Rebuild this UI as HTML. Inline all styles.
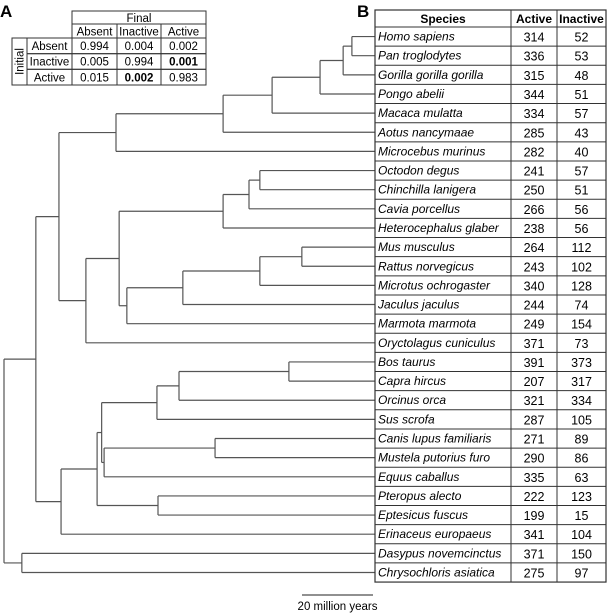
<!DOCTYPE html>
<html><head><meta charset="utf-8"><style>
html,body{margin:0;padding:0;background:#fff;}
svg{display:block;font-family:"Liberation Sans",Arial,sans-serif;}
</style></head><body>
<svg id="fig" width="607" height="613" viewBox="0 0 607 613" xmlns="http://www.w3.org/2000/svg">
<g id="matrix"></g>
<g id="tree"></g>
<g id="table"></g>
<text x="0" y="17" font-size="17" font-weight="bold">A</text>
<text x="357" y="17" font-size="17" font-weight="bold">B</text>
<line x1="302" y1="595" x2="373" y2="595" stroke="#222" stroke-width="1"/>
<text x="337.5" y="610" font-size="11.5" text-anchor="middle">20 million years</text>
</svg>
<script>
const species = ["Homo sapiens","Pan troglodytes","Gorilla gorilla gorilla","Pongo abelii","Macaca mulatta","Aotus nancymaae","Microcebus murinus","Octodon degus","Chinchilla lanigera","Cavia porcellus","Heterocephalus glaber","Mus musculus","Rattus norvegicus","Microtus ochrogaster","Jaculus jaculus","Marmota marmota","Oryctolagus cuniculus","Bos taurus","Capra hircus","Orcinus orca","Sus scrofa","Canis lupus familiaris","Mustela putorius furo","Equus caballus","Pteropus alecto","Eptesicus fuscus","Erinaceus europaeus","Dasypus novemcinctus","Chrysochloris asiatica"];
const activeCounts = [314,336,315,344,334,285,282,241,250,266,238,264,243,340,244,249,371,391,207,321,287,271,290,335,222,199,341,371,275];
const inactiveCounts = [52,53,48,51,57,43,40,57,51,56,56,112,102,128,74,154,73,373,317,334,105,89,86,63,123,15,104,150,97];
// tree: [age (Mya), child, child]; leaves are species indices
const treeData = [106,[96.9,[90.3,[74,[43.4,[29.4,[15.7,[9.1,[6.6,0,1],2],3],4],5],6],[82.6,[73.1,[43.4,[36,[32.9,7,8],9],10],[70.9,[54.9,[32.9,[20.9,11,12],13],14],15]],16]],[89.7,[79.4,[78.1,[62.3,[56,[24.6,17,18],19],20],[77.4,[45.7,21,22],23]],[62,24,25]],26]],[100.9,27,28]];
const matCols = ["Absent","Inactive","Active"];
const matRows = ["Absent","Inactive","Active"];
const matVals = [["0.994","0.004","0.002"],["0.005","0.994","0.001"],["0.015","0.002","0.983"]];
const matBold = [[0,0,0],[0,0,1],[0,1,0]];

const NS="http://www.w3.org/2000/svg";
function mk(parent,tag,attrs,txt){const e=document.createElementNS(NS,tag);for(const k in attrs)e.setAttribute(k,attrs[k]);if(txt!==undefined)e.textContent=txt;parent.appendChild(e);return e;}

const tL=375,tR=606,c1=511,c2=557,tTop=10,hBot=27,rowH=19.14;
const rowY=i=>hBot+rowH*(i+0.5);
const xAge=a=>375-a*3.5;

const tb=document.getElementById('table');
const border=mk(tb,'rect',{x:tL,y:tTop,width:tR-tL,height:hBot+rowH*species.length-tTop,fill:'none',stroke:'#333','stroke-width':1.2});


[c1,c2].forEach(x=>{const l=mk(tb,'line',{x1:x,x2:x,y1:tTop,y2:hBot+rowH*species.length,stroke:'#333','stroke-width':1});});
const hdr=[["Species",(tL+c1)/2],["Active",(c1+c2)/2],["Inactive",(c2+tR)/2]];
hdr.forEach(h=>{const t=mk(tb,'text',{x:h[1],y:23,'font-size':12,'font-weight':'bold','text-anchor':'middle'},h[0]);});
species.forEach((s,i)=>{
  const yb=hBot+rowH*i;
  const l=mk(tb,'line',{x1:tL,x2:tR,y1:yb,y2:yb,stroke:'#333','stroke-width':1});
  
  
  const y=rowY(i)+4;
  const a=mk(tb,'text',{x:tL+3,y:y,'font-size':12,'font-style':'italic'},s);
  
  
  const b=mk(tb,'text',{x:(c1+c2)/2,y:y+1,'font-size':12.5,'text-anchor':'middle'},activeCounts[i]);
  
  
  const c=mk(tb,'text',{x:(c2+tR)/2,y:y+1,'font-size':12.5,'text-anchor':'middle'},inactiveCounts[i]);
  
  
});

const tr=document.getElementById('tree');
function line(x1,y1,x2,y2){const l=mk(tr,'line',{x1,y1,x2,y2,stroke:'#555','stroke-width':1.2});}
function layout(n){
  if(typeof n==='number') return {x:tL,y:rowY(n)};
  const x=xAge(n[0]);
  const ch=n.slice(1).map(layout);
  ch.forEach(c=>line(x,c.y,c.x,c.y));
  const ys=ch.map(c=>c.y);
  line(x,Math.min(...ys),x,Math.max(...ys));
  return {x,y:(Math.min(...ys)+Math.max(...ys))/2};
}
layout(treeData);

const m=document.getElementById('matrix');
const mx=[72,117,161,206], my=[11,24,38,53.7,69.3,85];
function r(x,y,w,h,name){const e=mk(m,'rect',{x,y,width:w,height:h,fill:'none',stroke:'#333','stroke-width':1});}
r(72,11,134,13,'final-header-cell');
const ft=mk(m,'text',{x:139,y:22,'font-size':11.5,'text-anchor':'middle'},'Final');


r(12,38,15,47,'initial-header-cell');
const it=mk(m,'text',{x:0,y:0,'font-size':11.5,'text-anchor':'middle',transform:'translate(23.5,61.5) rotate(-90)'},'Initial');


matCols.forEach((c,j)=>{
  r(mx[j],24,mx[j+1]-mx[j],14,'matrix-col-header');
  const t=mk(m,'text',{x:(mx[j]+mx[j+1])/2,y:35.5,'font-size':11.5,'text-anchor':'middle'},c);
  
  
});
matRows.forEach((rw,i)=>{
  const y0=my[i+2],y1=my[i+3];
  r(27,y0,45,y1-y0,'matrix-row-header');
  const t=mk(m,'text',{x:49.5,y:y0+12,'font-size':11.5,'text-anchor':'middle'},rw);
  
  
  matVals[i].forEach((v,j)=>{
    r(mx[j],y0,mx[j+1]-mx[j],y1-y0,'matrix-cell');
    const a={x:(mx[j]+mx[j+1])/2,y:y0+12,'font-size':11.5,'text-anchor':'middle'};
    if(matBold[i][j])a['font-weight']='bold';
    const tv=mk(m,'text',a,v);
    
    
  });
});
</script>
</body></html>
